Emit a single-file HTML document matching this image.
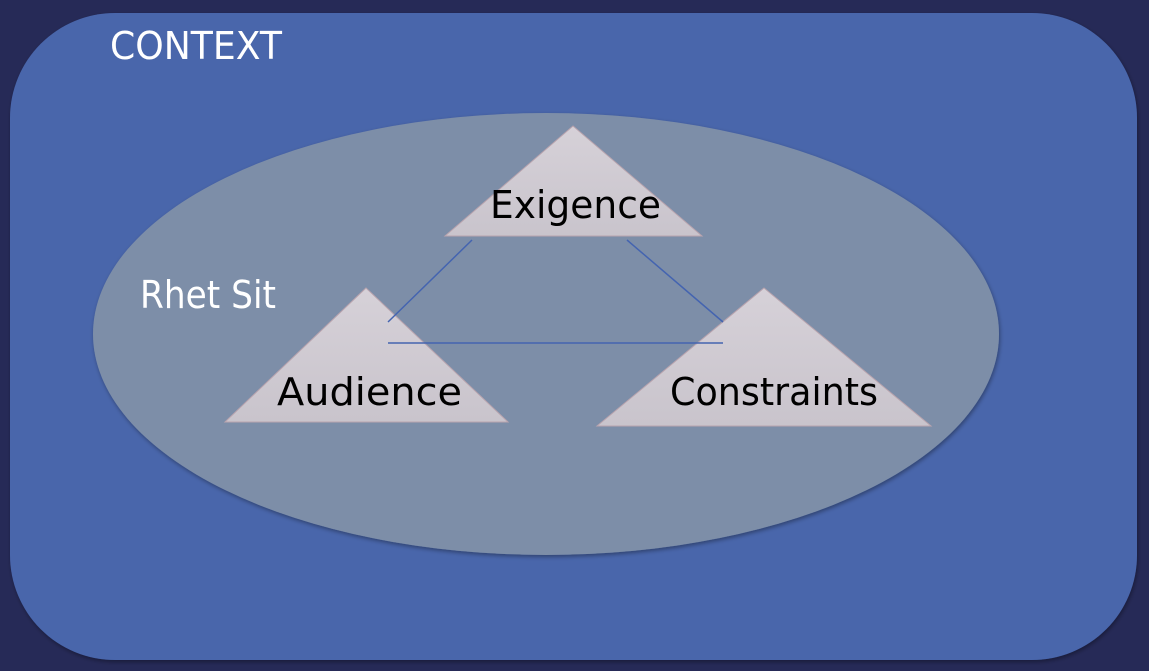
<!DOCTYPE html>
<html><head><meta charset="utf-8"><style>
html,body{margin:0;padding:0;background:#262a57;}
svg{display:block;}
text{font-family:"DejaVu Sans","Liberation Sans",sans-serif;}
</style></head><body>
<svg width="1149" height="671" viewBox="0 0 1149 671" xmlns="http://www.w3.org/2000/svg">
<defs>
<linearGradient id="tg" x1="0" y1="0" x2="0" y2="1"><stop offset="0" stop-color="#d6d1d8"/><stop offset="1" stop-color="#c9c4cc"/></linearGradient>
<filter id="sh" x="-5%" y="-5%" width="110%" height="115%"><feDropShadow dx="1" dy="2" stdDeviation="2" flood-color="#000" flood-opacity="0.35"/></filter>
</defs>
<rect width="1149" height="671" fill="#262a57"/>
<rect x="10" y="13" width="1127" height="647" rx="105" ry="105" fill="#4866ab" filter="url(#sh)"/>
<text x="110" y="59" font-size="38" fill="#fff" textLength="172" lengthAdjust="spacingAndGlyphs">CONTEXT</text>
<ellipse cx="546" cy="334" rx="453" ry="221" fill="#7d8ea8" filter="url(#sh)"/>
<text x="140" y="308" font-size="38" fill="#fff" textLength="136" lengthAdjust="spacingAndGlyphs">Rhet Sit</text>
<polygon points="573,126 702,236 445,236" fill="url(#tg)" stroke="#b9a4ae" stroke-width="1"/>
<polygon points="366,288 508,422 225,422" fill="url(#tg)" stroke="#b9a4ae" stroke-width="1"/>
<polygon points="764,288 931,426 597,426" fill="url(#tg)" stroke="#b9a4ae" stroke-width="1"/>
<g stroke="#4464b0" stroke-width="1.5">
<line x1="472" y1="240" x2="388" y2="322"/>
<line x1="627" y1="240" x2="723" y2="322"/>
<line x1="388" y1="343" x2="723" y2="343"/>
</g>
<text x="490" y="218" font-size="38" fill="#000" textLength="171" lengthAdjust="spacingAndGlyphs">Exigence</text>
<text x="277" y="405" font-size="38" fill="#000" textLength="185" lengthAdjust="spacingAndGlyphs">Audience</text>
<text x="670" y="405" font-size="38" fill="#000" textLength="208" lengthAdjust="spacingAndGlyphs">Constraints</text>
</svg>
</body></html>
